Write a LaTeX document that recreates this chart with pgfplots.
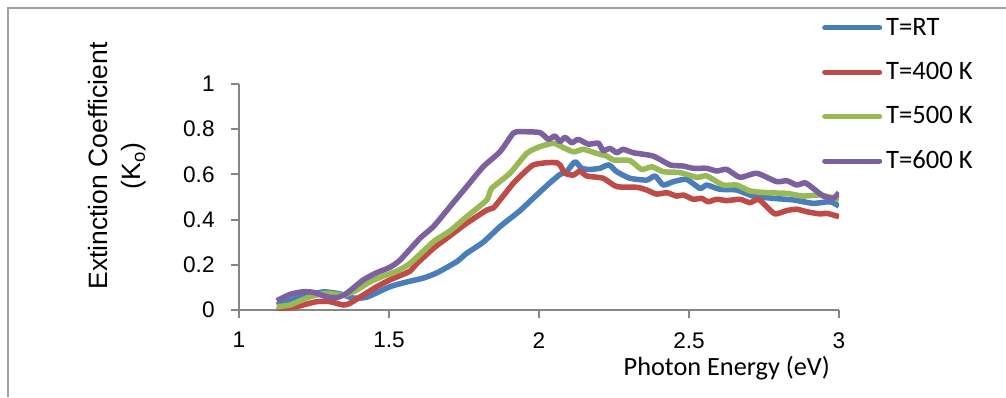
\documentclass[border=0pt]{standalone}
\usepackage{pgfplots}
\pgfplotsset{compat=1.18}
\usepackage{fontspec}
\setmainfont{Liberation Sans}
\newfontfamily\calib{Carlito}
\definecolor{cblue}{RGB}{74,126,187}
\definecolor{cred}{RGB}{190,75,72}
\definecolor{cgreen}{RGB}{152,185,84}
\definecolor{cpurple}{RGB}{125,96,160}
\definecolor{axgray}{RGB}{134,134,134}
\definecolor{frgray}{RGB}{160,160,160}
\begin{document}
\begin{tikzpicture}
\path[use as bounding box] (-119.5pt,-43.5pt) rectangle (383.5pt,155pt);
\draw[frgray, line width=0.75pt] (-115.5pt,-43.5pt) -- (-115.5pt,151pt) -- (383.5pt,151pt);
\begin{axis}[
  at={(0,0)}, anchor=south west,
  scale only axis, width=300pt, height=113pt,
  xmin=1, xmax=3, ymin=0, ymax=1,
  axis x line*=bottom, axis y line*=left,
  axis line style={axgray, line width=1pt},
  xtick={1,1.5,2,2.5,3}, ytick={0,0.2,0.4,0.6,0.8,1},
  xticklabels={1,1.5,2,2.5,3},
  yticklabels={0,0.2,0.4,0.6,0.8,1},
  /pgf/number format/assume math mode=true,
  tick align=outside, major tick length=4pt,
  tick style={axgray, line width=1pt},
  tick label style={font=\fontsize{11.3}{13}\selectfont},
  yticklabel style={anchor=east, inner sep=0pt, xshift=-8pt},
  xticklabel style={anchor=north, inner sep=0pt, yshift=-7pt},
  xlabel={\calib Photon Energy (eV)},
  xlabel style={font=\fontsize{13.15}{15}\selectfont, at={(axis description cs:0.813,-0.292)}, anchor=base, inner sep=0pt},
  ylabel={Extinction Coefficient\\(K\textsubscript{o})},
  ylabel style={font=\fontsize{13.25}{16.5}\selectfont, align=center, at={(axis description cs:-0.203,0.637)}, anchor=center, rotate=0},
  legend style={draw=none, fill=none, at={(axis description cs:0.972,1.31)}, anchor=north west,
    font=\calib\fontsize{13.3}{15}\selectfont, row sep=8pt, inner sep=0pt, outer sep=0pt},
  legend cell align=left,
  legend image code/.code={\draw[line width=2.5pt, line cap=round] (0pt,0pt) -- (27.5pt,0pt);},
  every axis plot/.append style={line width=2.75pt, line join=round, smooth, tension=0.35},
  clip=true,
]
\addplot[cblue] coordinates {
(1.126,0.022) (1.192,0.052) (1.28,0.08) (1.337,0.071) (1.38,0.053) (1.426,0.057)
(1.503,0.103) (1.559,0.124) (1.614,0.141) (1.659,0.164) (1.726,0.214) (1.759,0.251)
(1.814,0.300) (1.87,0.369) (1.937,0.44) (1.981,0.495) (2.03,0.555) (2.07,0.60)
(2.092,0.612) (2.12,0.656) (2.142,0.627) (2.17,0.622) (2.203,0.627) (2.233,0.642)
(2.259,0.612) (2.303,0.583) (2.359,0.575) (2.387,0.593) (2.414,0.553) (2.448,0.568)
(2.492,0.578) (2.537,0.538) (2.559,0.553) (2.603,0.534) (2.659,0.531) (2.714,0.504)
(2.781,0.494) (2.848,0.487) (2.914,0.472) (2.97,0.479) (3.0,0.46)
};
\addlegendentry{T=RT}
\addplot[cred] coordinates {
(1.126,0.0) (1.192,0.015) (1.259,0.037) (1.303,0.037) (1.348,0.022) (1.37,0.03)
(1.414,0.066) (1.459,0.103) (1.503,0.133) (1.537,0.152) (1.57,0.172) (1.592,0.204)
(1.648,0.273) (1.692,0.317) (1.759,0.384) (1.826,0.442) (1.848,0.452) (1.87,0.487)
(1.914,0.56) (1.948,0.605) (1.981,0.642) (2.026,0.652) (2.059,0.652) (2.07,0.642)
(2.087,0.605) (2.114,0.597) (2.137,0.615) (2.159,0.593) (2.214,0.583) (2.259,0.546)
(2.326,0.543) (2.359,0.531) (2.392,0.513) (2.426,0.519) (2.459,0.504) (2.481,0.509)
(2.514,0.49) (2.542,0.494) (2.564,0.479) (2.592,0.49) (2.626,0.484) (2.67,0.49)
(2.703,0.475) (2.731,0.49) (2.759,0.457) (2.787,0.425) (2.826,0.44) (2.859,0.446)
(2.892,0.435) (2.937,0.425) (2.959,0.428) (3.0,0.413)
};
\addlegendentry{T=400 K}
\addplot[cgreen] coordinates {
(1.126,0.015) (1.17,0.022) (1.237,0.059) (1.292,0.074) (1.348,0.066) (1.392,0.088)
(1.437,0.125) (1.481,0.15) (1.526,0.172) (1.57,0.206) (1.648,0.302) (1.703,0.350)
(1.759,0.413) (1.826,0.487) (1.842,0.538) (1.903,0.605) (1.959,0.693) (2.003,0.723)
(2.048,0.738) (2.064,0.73) (2.114,0.7) (2.148,0.711) (2.192,0.693) (2.226,0.681)
(2.248,0.664) (2.303,0.661) (2.342,0.622) (2.376,0.634) (2.414,0.612) (2.47,0.608)
(2.526,0.587) (2.559,0.593) (2.614,0.553) (2.659,0.553) (2.703,0.527) (2.759,0.519)
(2.826,0.516) (2.881,0.504) (2.937,0.509) (3.0,0.49)
};
\addlegendentry{T=500 K}
\addplot[cpurple] coordinates {
(1.126,0.041) (1.17,0.069) (1.214,0.081) (1.248,0.078) (1.292,0.059) (1.326,0.055)
(1.359,0.074) (1.414,0.133) (1.459,0.165) (1.503,0.189) (1.537,0.221) (1.603,0.317)
(1.648,0.369) (1.703,0.457) (1.759,0.546) (1.814,0.634) (1.87,0.70) (1.914,0.782)
(1.937,0.789) (2.003,0.785) (2.031,0.755) (2.053,0.77) (2.07,0.745) (2.087,0.764)
(2.109,0.74) (2.131,0.755) (2.164,0.734) (2.198,0.738) (2.214,0.705) (2.237,0.715)
(2.259,0.696) (2.281,0.711) (2.314,0.696) (2.381,0.681) (2.437,0.642) (2.481,0.637)
(2.514,0.627) (2.559,0.627) (2.592,0.615) (2.626,0.622) (2.67,0.587) (2.726,0.605)
(2.792,0.568) (2.826,0.572) (2.859,0.553) (2.887,0.563) (2.914,0.538) (2.948,0.504)
(2.981,0.494) (3.0,0.52)
};
\addlegendentry{T=600 K}
\end{axis}
\end{tikzpicture}
\end{document}
